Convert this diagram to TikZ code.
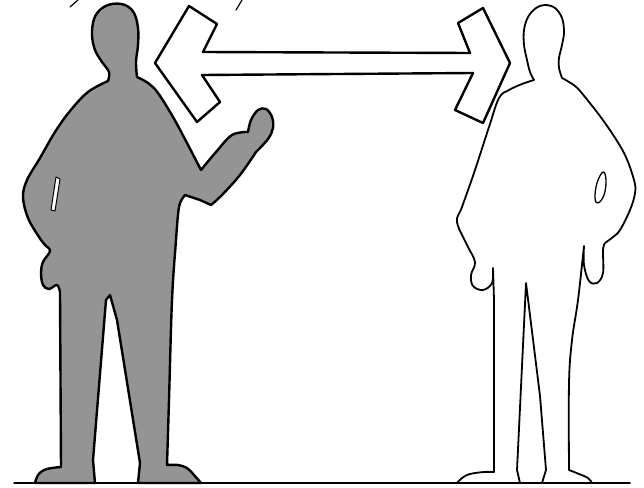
\documentclass[tikz,border=0pt]{standalone}
\begin{document}
\begin{tikzpicture}[x=1pt, y=-1pt, line join=round, line cap=round]

\tikzstyle{shadowman} = [draw=black, line width=2.4pt, fill=black!42]
\tikzstyle{outlineman} = [draw=black, line width=1.8pt, fill=white]
\tikzstyle{bigarrow} = [draw=black, line width=2.4pt, fill=white]
\tikzstyle{ground} = [draw=black, line width=1.5pt]
\tikzstyle{tick} = [draw=black, line width=1.2pt]

\useasboundingbox (0,0) rectangle (644,487);

% --- ground
\coordinate (ground_l) at (14,483);
\coordinate (ground_r) at (630,483);
\draw[ground] (ground_l) -- (ground_r);

% --- short strokes at the top edge
\draw[tick] (70,7) -- (78,0);
\draw[tick] (236,10) -- (242,0);

% --- left man, shaded
\path[shadowman] (35,483)
  -- plot[smooth, tension=0.6] coordinates {(35,483) (38,475) (44,470) (52,468) (61,467)}
  -- (60,292)
  -- plot[smooth, tension=0.6] coordinates {(60,292) (57,285) (49,289) (43,285) (41,273) (43,262) (50,251) (45,245) (39,237) (28,218) (23,197) (27,180) (40,158) (55,132) (70,111) (88,92) (108,81)}
  -- plot[smooth, tension=0.6] coordinates {(108,81) (109,72) (102,62) (95,50) (92,35) (94,19) (101,9) (112,4) (125,5) (134,13) (138,28) (138,45) (136,62) (137,77)}
  -- plot[smooth, tension=0.6] coordinates {(137,77) (148,83) (158,93) (173,117) (187,143) (201,170)}
  -- plot[smooth, tension=0.6] coordinates {(201,170) (216,152) (232,135) (248,132)}
  -- plot[smooth, tension=0.6] coordinates {(248,132) (251,120) (258,110) (266,109) (272,117) (273,128) (268,139) (256,152)}
  -- plot[smooth, tension=0.6] coordinates {(256,152) (240,175) (222,195) (211,205)}
  -- (200,200) -- (185,195)
  -- plot[smooth, tension=0.6] coordinates {(185,195) (180,203) (178,215) (176,240) (172,300) (169,400) (167,465)}
  -- plot[smooth, tension=0.6] coordinates {(167,465) (178,465) (187,468) (194,475) (201,483)}
  -- (138,483) -- (140,463) -- (117,320) -- (110,295) -- (106,300) -- (93,460) -- (95,483)
  -- cycle;

% slot of light in the left man
\path[draw=black, line width=1pt, fill=white]
  (56,177) -- (60,179) -- (55,211) -- (51,210) -- cycle;

% --- right man, outline only
\path[outlineman] (457,483)
  -- plot[smooth, tension=0.6] coordinates {(457,483) (462,478) (470,474) (484,472) (494,472)}
  -- (494,300) -- (493,268)
  -- plot[smooth, tension=0.6] coordinates {(493,268) (492,283) (483,290) (473,286) (471,275) (475,262) (467,245) (457,222) (462,207) (474,173) (489,127) (499,98) (509,90) (522,84) (534,80)}
  -- plot[smooth, tension=0.6] coordinates {(534,80) (530,72) (527,60) (524,45) (524,30) (528,17) (536,8) (545,5) (555,8) (562,18) (564,32) (562,45) (559,58) (559,68) (562,78)}
  -- plot[smooth, tension=0.6] coordinates {(562,78) (575,86) (585,97) (605,123) (624,153) (634,180) (635,193) (630,210) (620,230) (613,237) (605,243)}
  -- plot[smooth, tension=0.6] coordinates {(605,243) (603,250) (603,273) (597,283) (589,281) (584,265) (584,246)}
  -- plot[smooth, tension=0.6] coordinates {(584,246) (578,300) (572,340) (569,383) (569,470)}
  -- plot[smooth, tension=0.6] coordinates {(569,470) (579,474) (588,478) (592,483)}
  -- (542,483) -- (546,470) -- (540,396) -- (526,283) -- (517,470) -- (520,483)
  -- cycle;

% pocket hole of the right man
\path[draw=black, line width=1.3pt]
  plot[smooth cycle, tension=0.7] coordinates {(603,172) (606,180) (604,195) (598,203) (595,198) (597,183)};

% --- double arrow between the two
\path[bigarrow]
  (203,52) -- (217,24) -- (189,6) -- (155,63) -- (197,122) -- (220,102) -- (202,75)
  -- (473,73)
  -- (455,110) -- (483,123) -- (510,63) -- (483,8) -- (458,23) -- (470,53)
  -- cycle;

\end{tikzpicture}
\end{document}
